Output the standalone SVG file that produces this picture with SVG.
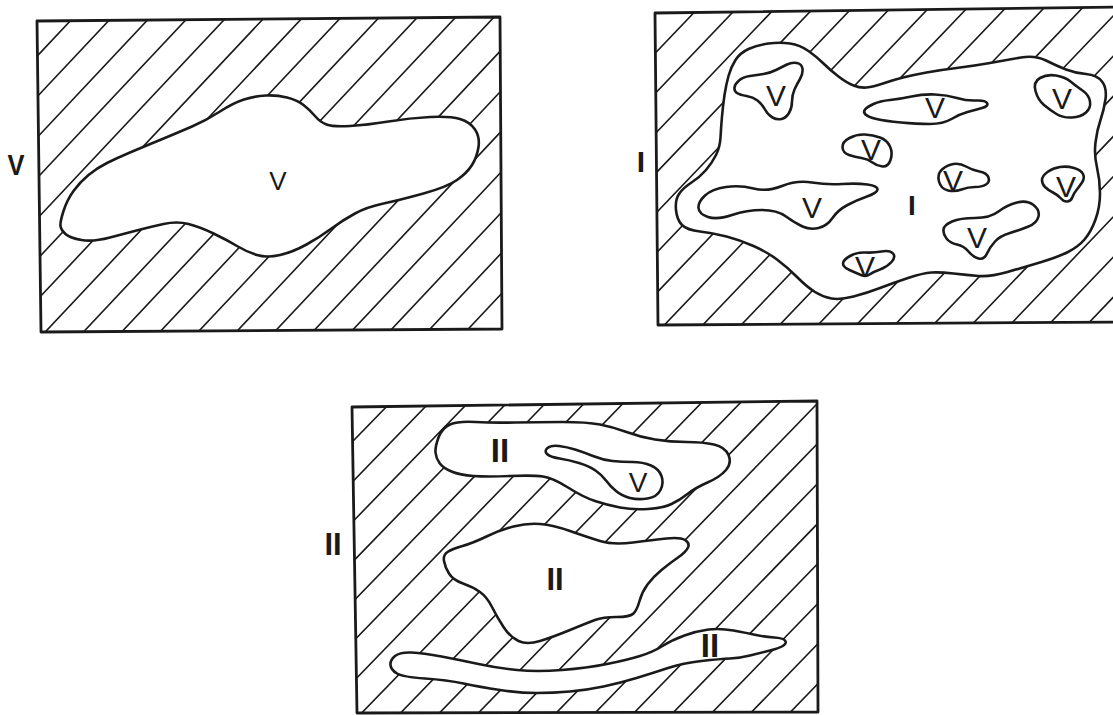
<svg xmlns="http://www.w3.org/2000/svg" width="1113" height="715" viewBox="0 0 1113 715">
<style>
.frame{fill:none;stroke:#1a1a1a;stroke-width:2.8;stroke-linejoin:round}
.blob{fill:#fff;stroke:#1a1a1a;stroke-width:2.6;stroke-linejoin:round}
.hatch{fill:none;stroke:#1a1a1a;stroke-width:1.6}
.lb{font-family:"Liberation Sans",Arial,sans-serif;font-weight:bold;fill:#1a1a1a;text-anchor:middle}
.lv{font-family:"Liberation Sans",Arial,sans-serif;fill:#1a1a1a;text-anchor:middle}
</style>
<defs>
<clipPath id="c1"><polygon points="37,21 500,17 502,329 41,332"/></clipPath>
<clipPath id="c2"><polygon points="655,13 1125,7 1125,322 658,325"/></clipPath>
<clipPath id="c3"><polygon points="352,407 817,401 818,712 357,713"/></clipPath>
</defs>
<rect width="1113" height="715" fill="#fff"/>

<g id="panel-V">
<path class="hatch" clip-path="url(#c1)" d="M51.7,0L-267.9,340M89.9,0L-229.7,340M128.1,0L-191.5,340M166.3,0L-153.3,340M204.5,0L-115.1,340M242.7,0L-76.9,340M280.9,0L-38.7,340M319.1,0L-0.5,340M357.3,0L37.7,340M395.5,0L75.9,340M433.7,0L114.1,340M471.9,0L152.3,340M510.1,0L190.5,340M548.3,0L228.7,340M586.5,0L266.9,340M624.7,0L305.1,340M662.9,0L343.3,340M701.1,0L381.5,340M739.3,0L419.7,340M777.5,0L457.9,340M815.7,0L496.1,340"/>
<polygon class="frame" points="37,21 500,17 502,329 41,332"/>
<path class="blob" d="M60.5,226 Q60,222 63.5,211 Q67,200 73.5,191 Q80,182 88.5,175 Q97,168 107,163 Q117,158 130,152.5 Q143,147 160,140 Q177,133 192,126.5 Q207,120 220,111.5 Q233,103 244,99.5 Q255,96 266,95.5 Q277,95 287,97.5 Q297,100 303.5,105 Q310,110 315,116 Q320,122 326.5,124.5 Q333,127 350,126 Q367,125 388.5,121.5 Q410,118 430,117 Q450,116 460,119 Q470,122 475,129.5 Q480,137 478.5,147 Q477,157 472,165 Q467,173 457,180 Q447,187 423.5,193.5 Q400,200 383.5,203.5 Q367,207 355,213.5 Q343,220 331.5,228.5 Q320,237 306.5,244.5 Q293,252 280,255 Q267,258 257,255 Q247,252 237,246 Q227,240 213.5,233.5 Q200,227 188.5,224 Q177,221 163.5,224 Q150,227 138.5,230 Q127,233 110,237.5 Q93,242 81.5,240 Q70,238 65.5,234 Q61,230 60.5,226 Z"/>
<text class="lb" x="16" y="175" font-size="30" textLength="17" lengthAdjust="spacingAndGlyphs">V</text>
<text class="lv" x="278" y="190" font-size="26">V</text>
</g>

<g id="panel-I">
<path class="hatch" clip-path="url(#c2)" d="M667.6,0L347.6,335M706,0L386,335M744.4,0L424.4,335M782.8,0L462.8,335M821.2,0L501.2,335M859.6,0L539.6,335M898,0L578,335M936.4,0L616.4,335M974.8,0L654.8,335M1013.2,0L693.2,335M1051.6,0L731.6,335M1090,0L770,335M1128.4,0L808.4,335M1166.8,0L846.8,335M1205.2,0L885.2,335M1243.6,0L923.6,335M1282,0L962,335M1320.4,0L1000.4,335M1358.8,0L1038.8,335M1397.2,0L1077.2,335"/>
<polygon class="frame" points="655,13 1125,7 1125,322 658,325"/>
<path class="blob" d="M676,210 Q675,200 679,194 Q683,188 691.5,182.5 Q700,177 706,170 Q712,163 716,155 Q720,147 720.5,137.5 Q721,128 722,116.5 Q723,105 724.5,95 Q726,85 728.5,76 Q731,67 735.5,60 Q740,53 748.5,49 Q757,45 768.5,43.5 Q780,42 790,43.5 Q800,45 808.5,51 Q817,57 823.5,63.5 Q830,70 838.5,76.5 Q847,83 853.5,85.5 Q860,88 866.5,87.5 Q873,87 883,83.5 Q893,80 903,77.5 Q913,75 926.5,72.5 Q940,70 956.5,68 Q973,66 990,63 Q1007,60 1021,57.5 Q1035,55 1046,60.5 Q1057,66 1066,69.5 Q1075,73 1086,74 Q1097,75 1102,81.5 Q1107,88 1105.5,99 Q1104,110 1100.5,120 Q1097,130 1095.5,142.5 Q1094,155 1097,167.5 Q1100,180 1100,193.5 Q1100,207 1095.5,219.5 Q1091,232 1084.5,239.5 Q1078,247 1068,252 Q1058,257 1041.5,262 Q1025,267 1007.5,272 Q990,277 978.5,276 Q967,275 953.5,273.5 Q940,272 931.5,272.5 Q923,273 908,278 Q893,283 880,288 Q867,293 853.5,296.5 Q840,300 831.5,298.5 Q823,297 815,292 Q807,287 797,277 Q787,267 777,259.5 Q767,252 753.5,246 Q740,240 726.5,236.5 Q713,233 700,231.5 Q687,230 682,225 Q677,220 676,210 Z"/>
<g id="pI-v1"><path class="blob" d="M734.5,87.5 Q735,84 739,80.5 Q743,77 750,76 Q757,75 763.5,74 Q770,73 776,70 Q782,67 787,64.5 Q792,62 797,63 Q802,64 802.5,69 Q803,74 800,79 Q797,84 794.5,89.5 Q792,95 792,101.5 Q792,108 789,113 Q786,118 781.5,119 Q777,120 772.5,117.5 Q768,115 765,109.5 Q762,104 757.5,100.5 Q753,97 746.5,96 Q740,95 737,93 Q734,91 734.5,87.5 Z"/><text class="lv" x="776" y="106" font-size="30">V</text></g>
<g id="pI-v2"><path class="blob" d="M865,109.5 Q867,107 873.5,104 Q880,101 890,100 Q900,99 911.5,96.5 Q923,94 935,94.5 Q947,95 957,98 Q967,101 976,100.5 Q985,100 987,103 Q989,106 982,108 Q975,110 967.5,112 Q960,114 951.5,119 Q943,124 930,124 Q917,124 901,122.5 Q885,121 876.5,119 Q868,117 865.5,114.5 Q863,112 865,109.5 Z"/><text class="lv" x="935" y="118" font-size="30">V</text></g>
<g id="pI-v3"><path class="blob" d="M1035.5,91 Q1033,82 1040,78 Q1047,74 1056,75.5 Q1065,77 1070.5,81.5 Q1076,86 1082.5,90.5 Q1089,95 1090,101.5 Q1091,108 1086,112.5 Q1081,117 1072,117.5 Q1063,118 1056.5,114 Q1050,110 1044,105 Q1038,100 1035.5,91 Z"/><text class="lv" x="1062" y="109" font-size="30">V</text></g>
<g id="pI-v4"><path class="blob" d="M842.5,147.5 Q842,142 849.5,138 Q857,134 865,134.5 Q873,135 880,137.5 Q887,140 890,146.5 Q893,153 890.5,160 Q888,167 882.5,166.5 Q877,166 872.5,162.5 Q868,159 861.5,158 Q855,157 849,155 Q843,153 842.5,147.5 Z"/><text class="lv" x="871" y="160" font-size="30">V</text></g>
<g id="pI-v5"><path class="blob" d="M939,181.5 Q937,174 942,169.5 Q947,165 953.5,164 Q960,163 966,166.5 Q972,170 979.5,171.5 Q987,173 988.5,177.5 Q990,182 986,184.5 Q982,187 975,187 Q968,187 961.5,189.5 Q955,192 948,190.5 Q941,189 939,181.5 Z"/><text class="lv" x="953" y="191" font-size="30">V</text></g>
<g id="pI-v6"><path class="blob" d="M1042,180 Q1042,176 1047.5,172 Q1053,168 1060,167 Q1067,166 1074,168 Q1081,170 1083,174 Q1085,178 1082,182.5 Q1079,187 1076.5,190 Q1074,193 1072.5,197 Q1071,201 1067.5,201.5 Q1064,202 1061,198.5 Q1058,195 1053,192.5 Q1048,190 1045,187 Q1042,184 1042,180 Z"/><text class="lv" x="1066" y="197" font-size="30">V</text></g>
<g id="pI-v7"><path class="blob" d="M698.5,208 Q698,202 705,195.5 Q712,189 726,187 Q740,185 753.5,188.5 Q767,192 782,186 Q797,180 812,182.5 Q827,185 842,184 Q857,183 867.5,184.5 Q878,186 877.5,189.5 Q877,193 867,196.5 Q857,200 847.5,205 Q838,210 832.5,218 Q827,226 818.5,228 Q810,230 802.5,226.5 Q795,223 786,216.5 Q777,210 762,210 Q747,210 732,215 Q717,220 708,217 Q699,214 698.5,208 Z"/><text class="lv" x="812" y="218" font-size="30">V</text></g>
<g id="pI-v8"><path class="blob" d="M943.5,229.5 Q944,225 952,221.5 Q960,218 975,218 Q990,218 998.5,211.5 Q1007,205 1017,202.5 Q1027,200 1033.5,205 Q1040,210 1038.5,216.5 Q1037,223 1028.5,226.5 Q1020,230 1010,233 Q1000,236 995,241.5 Q990,247 987,253.5 Q984,260 978.5,258.5 Q973,257 968.5,251.5 Q964,246 957,244.5 Q950,243 946.5,238.5 Q943,234 943.5,229.5 Z"/><text class="lv" x="977" y="248" font-size="30">V</text></g>
<g id="pI-v9"><path class="blob" d="M843,263.5 Q843,260 850,256 Q857,252 865,252.5 Q873,253 881.5,251.5 Q890,250 893,253.5 Q896,257 891.5,262 Q887,267 880,269.5 Q873,272 869.5,274.5 Q866,277 861,275 Q856,273 849.5,270 Q843,267 843,263.5 Z"/><text class="lv" x="865" y="277" font-size="30">V</text></g>
<text class="lb" x="912" y="215" font-size="28">I</text>
<text class="lb" x="641" y="172" font-size="30">I</text>
</g>

<g id="panel-II">
<path class="hatch" clip-path="url(#c3)" d="M358.9,395L43.65,720M397.8,395L82.55,720M436.7,395L121.45,720M475.6,395L160.35,720M514.5,395L199.25,720M553.4,395L238.15,720M592.3,395L277.05,720M631.2,395L315.95,720M670.1,395L354.85,720M709,395L393.75,720M747.9,395L432.65,720M786.8,395L471.55,720M825.7,395L510.45,720M864.6,395L549.35,720M903.5,395L588.25,720M942.4,395L627.15,720M981.3,395L666.05,720M1020.2,395L704.95,720M1059.1,395L743.85,720M1098,395L782.75,720"/>
<polygon class="frame" points="352,407 817,401 818,712 357,713"/>
<g id="pII-a"><path class="blob" d="M435.5,452.5 Q435,447 438.5,437.5 Q442,428 450,424.5 Q458,421 475.5,422 Q493,423 515,422.5 Q537,422 562,422 Q587,422 600,424.5 Q613,427 626.5,432 Q640,437 655,439.5 Q670,442 686.5,442 Q703,442 714,444.5 Q725,447 728.5,455 Q732,463 726,470 Q720,477 707.5,482.5 Q695,488 687.5,494 Q680,500 671.5,504 Q663,508 648,509 Q633,510 620,507.5 Q607,505 595,501 Q583,497 568,487.5 Q553,478 543,476.5 Q533,475 510,476 Q487,477 473.5,476 Q460,475 451.5,471.5 Q443,468 439.5,463 Q436,458 435.5,452.5 Z"/>
<path class="blob" d="M547,454 Q544,451 547.5,448 Q551,445 559,446 Q567,447 575,449.5 Q583,452 593,456 Q603,460 612.5,461 Q622,462 632.5,462 Q643,462 651,465.5 Q659,469 661.5,476 Q664,483 660.5,490 Q657,497 647.5,498.5 Q638,500 630,498 Q622,496 616,491 Q610,486 606,480.5 Q602,475 595.5,470.5 Q589,466 579,463 Q569,460 559.5,458.5 Q550,457 547,454 Z"/>
<text class="lb" x="500" y="462" font-size="33">II</text>
<text class="lv" x="638" y="492" font-size="28">V</text></g>
<g id="pII-b"><path class="blob" d="M449,573.5 Q445,567 444,561 Q443,555 447.5,552 Q452,549 462.5,546 Q473,543 486.5,536.5 Q500,530 513.5,526.5 Q527,523 540,524 Q553,525 570,531 Q587,537 600,541 Q613,545 633,542.5 Q653,540 666.5,538.5 Q680,537 685,540 Q690,543 688,547.5 Q686,552 678,557.5 Q670,563 661.5,570 Q653,577 647.5,584.5 Q642,592 639.5,601 Q637,610 633.5,613.5 Q630,617 616.5,617 Q603,617 595,620 Q587,623 570,630 Q553,637 540,641 Q527,645 518.5,641 Q510,637 503.5,627 Q497,617 492,607 Q487,597 480,592 Q473,587 463,583.5 Q453,580 449,573.5 Z"/>
<text class="lb" x="555" y="590" font-size="31">II</text></g>
<g id="pII-c"><path class="blob" d="M390.5,665 Q390,660 395,656 Q400,652 411.5,652.5 Q423,653 441.5,656.5 Q460,660 478.5,664 Q497,668 517,670 Q537,672 562,670 Q587,668 607,664 Q627,660 640,656 Q653,652 662.5,646 Q672,640 684.5,635.5 Q697,631 708.5,629.5 Q720,628 733.5,630.5 Q747,633 756,635 Q765,637 774,637.5 Q783,638 785,640.5 Q787,643 783.5,645.5 Q780,648 770,650.5 Q760,653 750,655.5 Q740,658 730,658.5 Q720,659 701.5,661 Q683,663 668,668 Q653,673 636.5,678 Q620,683 603.5,686.5 Q587,690 570,691.5 Q553,693 536.5,693 Q520,693 500,690 Q480,687 463.5,683.5 Q447,680 425,678.5 Q403,677 397,673.5 Q391,670 390.5,665 Z"/>
<text class="lb" x="710" y="657" font-size="33">II</text></g>
<text class="lb" x="333" y="555" font-size="31">II</text>
</g>
</svg>
